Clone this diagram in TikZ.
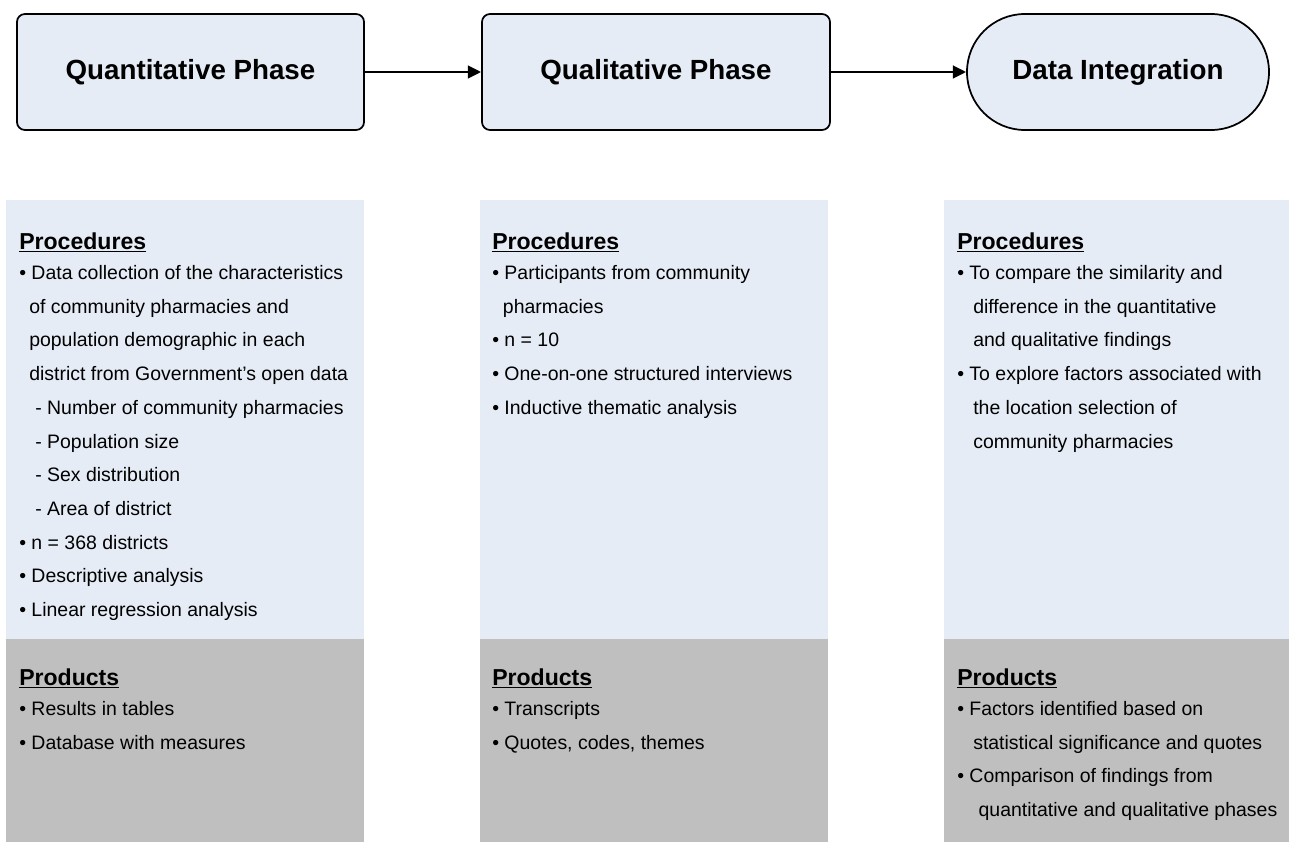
\documentclass[tikz,border=0pt]{standalone}
\usepackage{fontspec}
\setmainfont{Liberation Sans}
\usetikzlibrary{arrows.meta}
\definecolor{phaseblue}{RGB}{229,236,246}
\definecolor{prodgray}{RGB}{191,191,191}
\newcommand{\ulhead}[1]{\setbox0\hbox{#1}\rlap{\rule[-2.6pt]{\wd0}{1.2pt}}\box0}

\begin{document}
\begin{tikzpicture}[x=0.75pt,y=0.75pt,yscale=-1,xscale=1,
  phase/.style={draw=black, line width=1.3pt, fill=phaseblue, rounded corners=6pt, inner sep=0pt,
    minimum height=87pt, font=\fontsize{20.8pt}{24pt}\selectfont\bfseries},
  flow/.style={line width=2pt, -{Triangle[length=10pt,width=9.5pt]}},
  head/.style={anchor=base west, inner sep=0pt, font=\fontsize{17.3pt}{20pt}\selectfont\bfseries},
  items/.style={anchor=north west, inner sep=0pt, align=left, font=\fontsize{14.6pt}{25.3pt}\selectfont}
]
\useasboundingbox (0,0) rectangle (1289,842);

% Phase boxes
\node [phase, minimum width=260.3pt] (quant) at (190.5,72) {Quantitative Phase};
\node [phase, minimum width=261pt] (qual) at (656,72) {Qualitative Phase};
\node [phase, minimum width=226.5pt, rounded corners=43.4pt] (integ) at (1118,72) {Data Integration};

% Arrows
\draw [flow] (quant.east) -- (qual.west);
\draw [flow] (qual.east) -- (integ.west);

% Panels
\fill [phaseblue] (6,200) rectangle (364,639);
\fill [prodgray] (6,639) rectangle (364,842);
\fill [phaseblue] (480,200) rectangle (828,639);
\fill [prodgray] (480,639) rectangle (828,842);
\fill [phaseblue] (944,200) rectangle (1289,639);
\fill [prodgray] (944,639) rectangle (1289,842);

% Quantitative column
\node [head] (quantproc) at (19,249) {\ulhead{Procedures}};
\node [items] (quantproclist) at (19,265) {%
• Data collection of the characteristics\\
\hspace*{7.5pt}of community pharmacies and\\
\hspace*{7.5pt}population demographic in each\\
\hspace*{7.5pt}district from Government’s open data\\
\hspace*{12pt}- Number of community pharmacies\\
\hspace*{12pt}- Population size\\
\hspace*{12pt}- Sex distribution\\
\hspace*{12pt}- Area of district\\
• n = 368 districts\\
• Descriptive analysis\\
• Linear regression analysis};
\node [head] (quantprod) at (19,685) {\ulhead{Products}};
\node [items] (quantprodlist) at (19,701) {%
• Results in tables\\
• Database with measures};

% Qualitative column
\node [head] (qualproc) at (492,249) {\ulhead{Procedures}};
\node [items] (qualproclist) at (492,265) {%
• Participants from community\\
\hspace*{8pt}pharmacies\\
• n = 10\\
• One-on-one structured interviews\\
• Inductive thematic analysis};
\node [head] (qualprod) at (492,685) {\ulhead{Products}};
\node [items] (qualprodlist) at (492,701) {%
• Transcripts\\
• Quotes, codes, themes};

% Integration column
\node [head] (integproc) at (957,249) {\ulhead{Procedures}};
\node [items] (integproclist) at (957,265) {%
• To compare the similarity and\\
\hspace*{12pt}difference in the quantitative\\
\hspace*{12pt}and qualitative findings\\
• To explore factors associated with\\
\hspace*{12pt}the location selection of\\
\hspace*{12pt}community pharmacies};
\node [head] (integprod) at (957,685) {\ulhead{Products}};
\node [items] (integprodlist) at (957,701) {%
• Factors identified based on\\
\hspace*{12pt}statistical significance and quotes\\
• Comparison of findings from\\
\hspace*{16pt}quantitative and qualitative phases};

\end{tikzpicture}
\end{document}
